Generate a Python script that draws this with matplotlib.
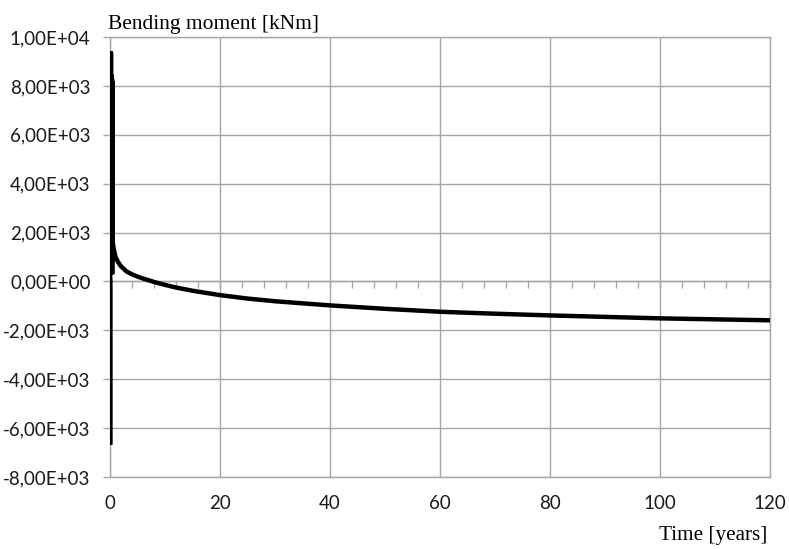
import matplotlib
matplotlib.use("Agg")
import matplotlib.pyplot as plt
from matplotlib.ticker import MultipleLocator, FuncFormatter

# Data
time_years = [0.0, 0.02, 0.06, 0.09, 0.12, 0.15, 0.18, 0.21, 0.24, 0.27, 0.30, 0.33, 0.36,
              0.39, 0.42, 0.5, 0.7, 1.0, 1.5, 2.0, 3.0,
              4.0, 5.0, 6.0, 7.0, 8.0, 10.0, 12.0, 15.0, 20.0, 25.0, 30.0, 40.0, 50.0,
              60.0, 70.0, 80.0, 90.0, 100.0, 110.0, 120.0]
moment_knm = [0, -6680, 9400, 400, 9400, 400, 9350, 400, 8450, 300, 8450, 300, 8300,
              300, 8200, 1600, 1300, 1000, 780, 620, 410,
              290, 200, 120, 50, -20, -140, -250, -380, -560, -700, -810, -980, -1120,
              -1240, -1320, -1390, -1450, -1510, -1550, -1590]

y_ticks = [-8000, -6000, -4000, -2000, 0, 2000, 4000, 6000, 8000, 10000]
x_ticks = [0, 20, 40, 60, 80, 100, 120]

W, H = 789, 549
fig = plt.figure(figsize=(W / 100, H / 100), dpi=100)
ax = fig.add_axes([110 / W, 1 - 477 / H, (770 - 110) / W, (477 - 37) / H])

grid_c = "#a6a6a6"
ax.plot(time_years, moment_knm, color="black", lw=3.2, solid_joinstyle="miter", zorder=3)

ax.set_xlim(0, 120)
ax.set_ylim(-8000, 10000)
ax.set_yticks(y_ticks)
ax.set_xticks(x_ticks)

def sci_comma(v, pos):
    s = "%.2E" % v
    return s.replace(".", ",")

ax.yaxis.set_major_formatter(FuncFormatter(sci_comma))
ax.grid(True, color=grid_c, lw=1.0)
for s in ax.spines.values():
    s.set_color(grid_c)
    s.set_linewidth(1.0)

ax.tick_params(axis="y", direction="out", length=5, width=1, color=grid_c, pad=9,
               labelsize=13.5, labelcolor="#1a1a1a")
ax.tick_params(axis="x", length=0, pad=13, labelsize=13.5, labelcolor="#1a1a1a")
for lab in ax.get_xticklabels() + ax.get_yticklabels():
    lab.set_family("Lato")

# axis line at y = 0 with minor ticks
sec = ax.secondary_xaxis(8000 / 18000)
sec.set_xticks(x_ticks)
sec.xaxis.set_minor_locator(MultipleLocator(4))
sec.tick_params(which="both", direction="out", length=5, width=1, color=grid_c,
                labelbottom=False, labeltop=False)
sec.set_xticklabels([])
sec.spines["bottom"].set_color(grid_c)
sec.spines["bottom"].set_linewidth(1.0)

fig.text(108 / W, 1 - 29 / H, "Bending moment [kNm]", family="Liberation Serif",
         size=15.5, ha="left", va="baseline", color="black")
fig.text(767 / W, 1 - 540 / H, "Time [years]", family="Liberation Serif",
         size=15.2, ha="right", va="baseline", color="black")

fig.savefig("out.png", dpi=100)
